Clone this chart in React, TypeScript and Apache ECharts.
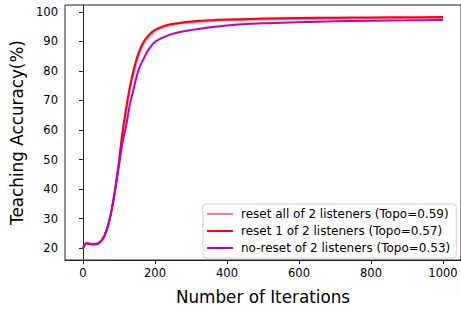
import React, { useEffect, useRef } from "react";
import * as echarts from "echarts";

const iterations = [0, 5, 10, 15, 20, 30, 40, 50, 60, 70, 80, 90, 100, 110, 120, 130, 140, 150, 160, 170, 180, 190, 200, 220, 240, 260, 300, 350, 400, 500, 600, 700, 800, 900, 1000];

const resetAll = [19.9, 21.2, 21.7, 21.6, 21.4, 21.3, 21.5, 22.4, 24.3, 27.8, 33.2, 40.3, 49.0, 58.5, 66.5, 73.5, 79.0, 83.6, 87.0, 89.5, 91.2, 92.5, 93.5, 94.7, 95.4, 95.8, 96.4, 96.8, 97.1, 97.4, 97.6, 97.7, 97.8, 97.85, 97.9];
const resetOne = [19.9, 21.2, 21.7, 21.6, 21.4, 21.3, 21.5, 22.4, 24.3, 27.8, 33.2, 40.5, 49.5, 59.5, 67.5, 74.5, 80.0, 84.5, 87.8, 90.1, 91.8, 93.0, 93.9, 95.0, 95.7, 96.1, 96.7, 97.1, 97.4, 97.7, 97.9, 98.0, 98.1, 98.15, 98.2];
const noReset = [19.9, 21.2, 21.7, 21.6, 21.4, 21.3, 21.5, 22.4, 24.3, 27.8, 33.2, 40.3, 48.0, 56.0, 61.5, 68.5, 73.5, 78.5, 82.0, 84.5, 86.8, 88.5, 89.8, 91.2, 92.2, 92.9, 93.8, 94.7, 95.4, 96.1, 96.5, 96.8, 97.0, 97.1, 97.2];

const seriesNames = [
  "reset all of 2 listeners (Topo=0.59)",
  "reset 1 of 2 listeners (Topo=0.57)",
  "no-reset of 2 listeners (Topo=0.53)",
];
const seriesColors = ["#ff6ec4", "#ff0000", "#c000c0"];

const xTicks = [0, 200, 400, 600, 800, 1000];
const yTicks = [20, 30, 40, 50, 60, 70, 80, 90, 100];

const FONT = "DejaVu Sans";

export default function App() {
  const ref = useRef<HTMLDivElement>(null);
  useEffect(() => {
    if (!ref.current) return;
    const chart = echarts.init(ref.current, undefined, { renderer: "svg" });
    const all = [resetAll, resetOne, noReset];
    chart.setOption({
      animation: false,
      backgroundColor: "#ffffff",
      grid: {
        left: 62,
        top: 5,
        width: 401,
        height: 260,
        show: true,
        borderColor: "#222",
        borderWidth: 1,
        backgroundColor: "transparent",
      },
      legend: {
        orient: "vertical",
        left: 203,
        top: 204,
        width: 254,
        padding: [3, 6, 3, 4],
        itemGap: 3,
        itemWidth: 26,
        itemHeight: 2,
        icon: "rect",
        borderColor: "#d0d0d0",
        borderWidth: 1,
        borderRadius: 3,
        backgroundColor: "rgba(255,255,255,0.85)",
        textStyle: {
          fontFamily: FONT,
          fontSize: 12,
          color: "#000",
          lineHeight: 14,
          padding: [0, 0, 0, 3],
        },
        data: seriesNames,
      },
      xAxis: {
        type: "value",
        min: -50,
        max: 1050,
        name: "Number of Iterations",
        nameLocation: "middle",
        nameGap: 28,
        nameTextStyle: { fontFamily: FONT, fontSize: 16.8, color: "#000" },
        axisLine: { show: true, lineStyle: { color: "#222", width: 1 } },
        axisTick: {
          show: true,
          inside: false,
          length: 4,
          customValues: xTicks,
          lineStyle: { color: "#222" },
        },
        axisLabel: {
          customValues: xTicks,
          formatter: (v: number) => String(v),
          fontFamily: FONT,
          fontSize: 11.5,
          color: "#000",
          margin: 7,
        },
        splitLine: { show: false },
      },
      yAxis: {
        type: "value",
        min: 16.0,
        max: 102.3,
        name: "Teaching Accuracy(%)",
        nameLocation: "middle",
        nameGap: 40,
        nameTextStyle: { fontFamily: FONT, fontSize: 16.8, color: "#000" },
        axisLine: { show: true, lineStyle: { color: "#222", width: 1 } },
        axisTick: {
          show: true,
          inside: false,
          length: 4,
          customValues: yTicks,
          lineStyle: { color: "#222" },
        },
        axisLabel: {
          customValues: yTicks,
          formatter: (v: number) => String(v),
          fontFamily: FONT,
          fontSize: 11.5,
          color: "#000",
          margin: 7,
        },
        splitLine: { show: false },
      },
      series: all.map((vals, i) => ({
        name: seriesNames[i],
        type: "line",
        data: iterations.map((x, j) => [x, vals[j]]),
        showSymbol: false,
        symbol: "none",
        smooth: 0.4,
        lineStyle: { width: 2, color: seriesColors[i] },
        itemStyle: { color: seriesColors[i] },
        z: 2 + i,
      })),
    });
    return () => chart.dispose();
  }, []);
  return (
    <div
      ref={ref}
      style={{ position: "fixed", left: 0, top: 0, width: 461, height: 310 }}
    />
  );
}
